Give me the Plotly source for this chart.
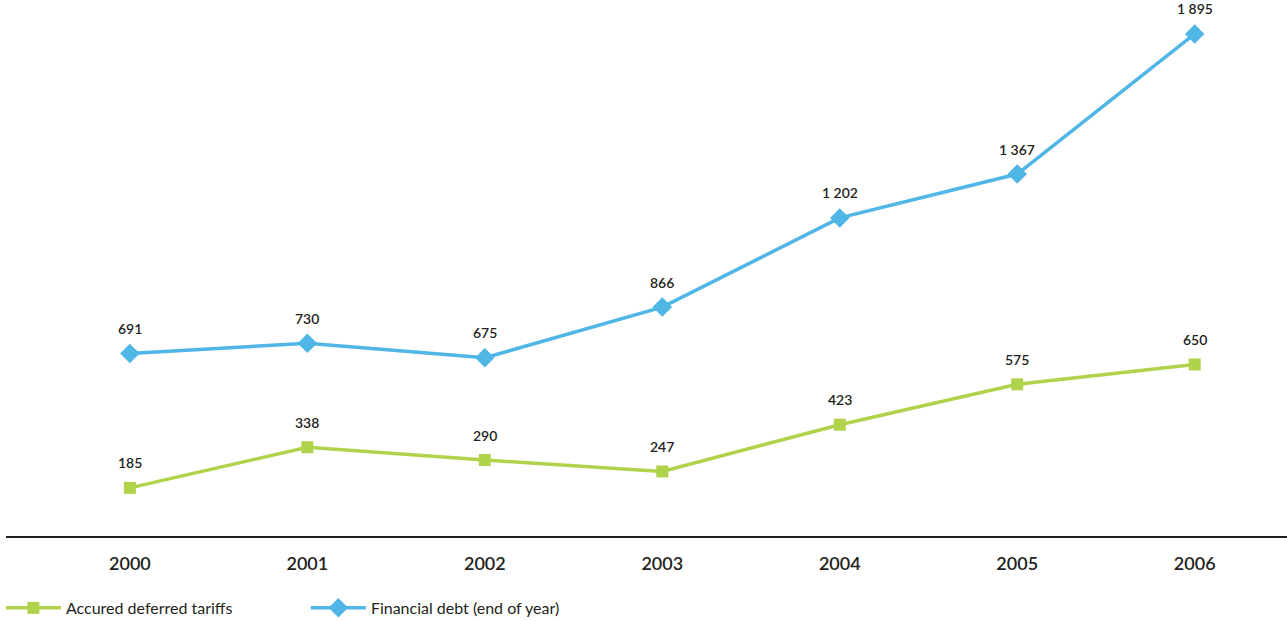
import plotly.graph_objects as go

years = ["2000", "2001", "2002", "2003", "2004", "2005", "2006"]
deferred_tariffs = [185, 338, 290, 247, 423, 575, 650]
financial_debt = [691, 730, 675, 866, 1202, 1367, 1895]

GREEN = "#b1d34b"
BLUE = "#4fb6e6"
TEXT = "#231f20"
FONT = "Lato"

xs = list(range(len(years)))


def fmt(v):
    s = f"{v:,}"
    return s.replace(",", " ")


fig = go.Figure()
fig.add_trace(go.Scatter(
    x=xs, y=deferred_tariffs, name="Accured deferred tariffs",
    mode="lines+markers",
    line=dict(color=GREEN, width=3.5),
    marker=dict(symbol="square", size=12, color=GREEN),
))
fig.add_trace(go.Scatter(
    x=xs, y=financial_debt, name="Financial debt (end of year)",
    mode="lines+markers",
    line=dict(color=BLUE, width=3.5),
    marker=dict(symbol="diamond", size=15, color=BLUE),
))

annotations = []
for series in (deferred_tariffs, financial_debt):
    for i, v in enumerate(series):
        annotations.append(dict(
            x=i, y=v, text=fmt(v), showarrow=False, yshift=25,
            font=dict(family=FONT, size=14, color=TEXT, weight=600),
        ))

fig.update_layout(
    width=1287, height=621,
    margin=dict(l=6, r=0, t=10, b=84, autoexpand=False),
    plot_bgcolor="white", paper_bgcolor="white",
    showlegend=True,
    legend=dict(
        orientation="h", x=-0.004, xanchor="left",
        yref="container", y=0.021, yanchor="middle",
        itemwidth=55,
        entrywidth=235, entrywidthmode="pixels",
        font=dict(family=FONT, size=16, color=TEXT),
        bgcolor="rgba(0,0,0,0)",
    ),
    annotations=annotations,
    xaxis=dict(
        range=[-0.698, 6.52], tickvals=xs, ticktext=years,
        showgrid=False, zeroline=False, showline=False, ticks="",
        tickfont=dict(family=FONT, size=18, color=TEXT, weight=600),
        ticklabelstandoff=14, fixedrange=True,
    ),
    yaxis=dict(
        range=[0, 1985], showgrid=False, showticklabels=False,
        zeroline=True, zerolinecolor="#231f20", zerolinewidth=1.5,
        showline=False, ticks="", fixedrange=True,
    ),
)

fig.write_html("out.html")
